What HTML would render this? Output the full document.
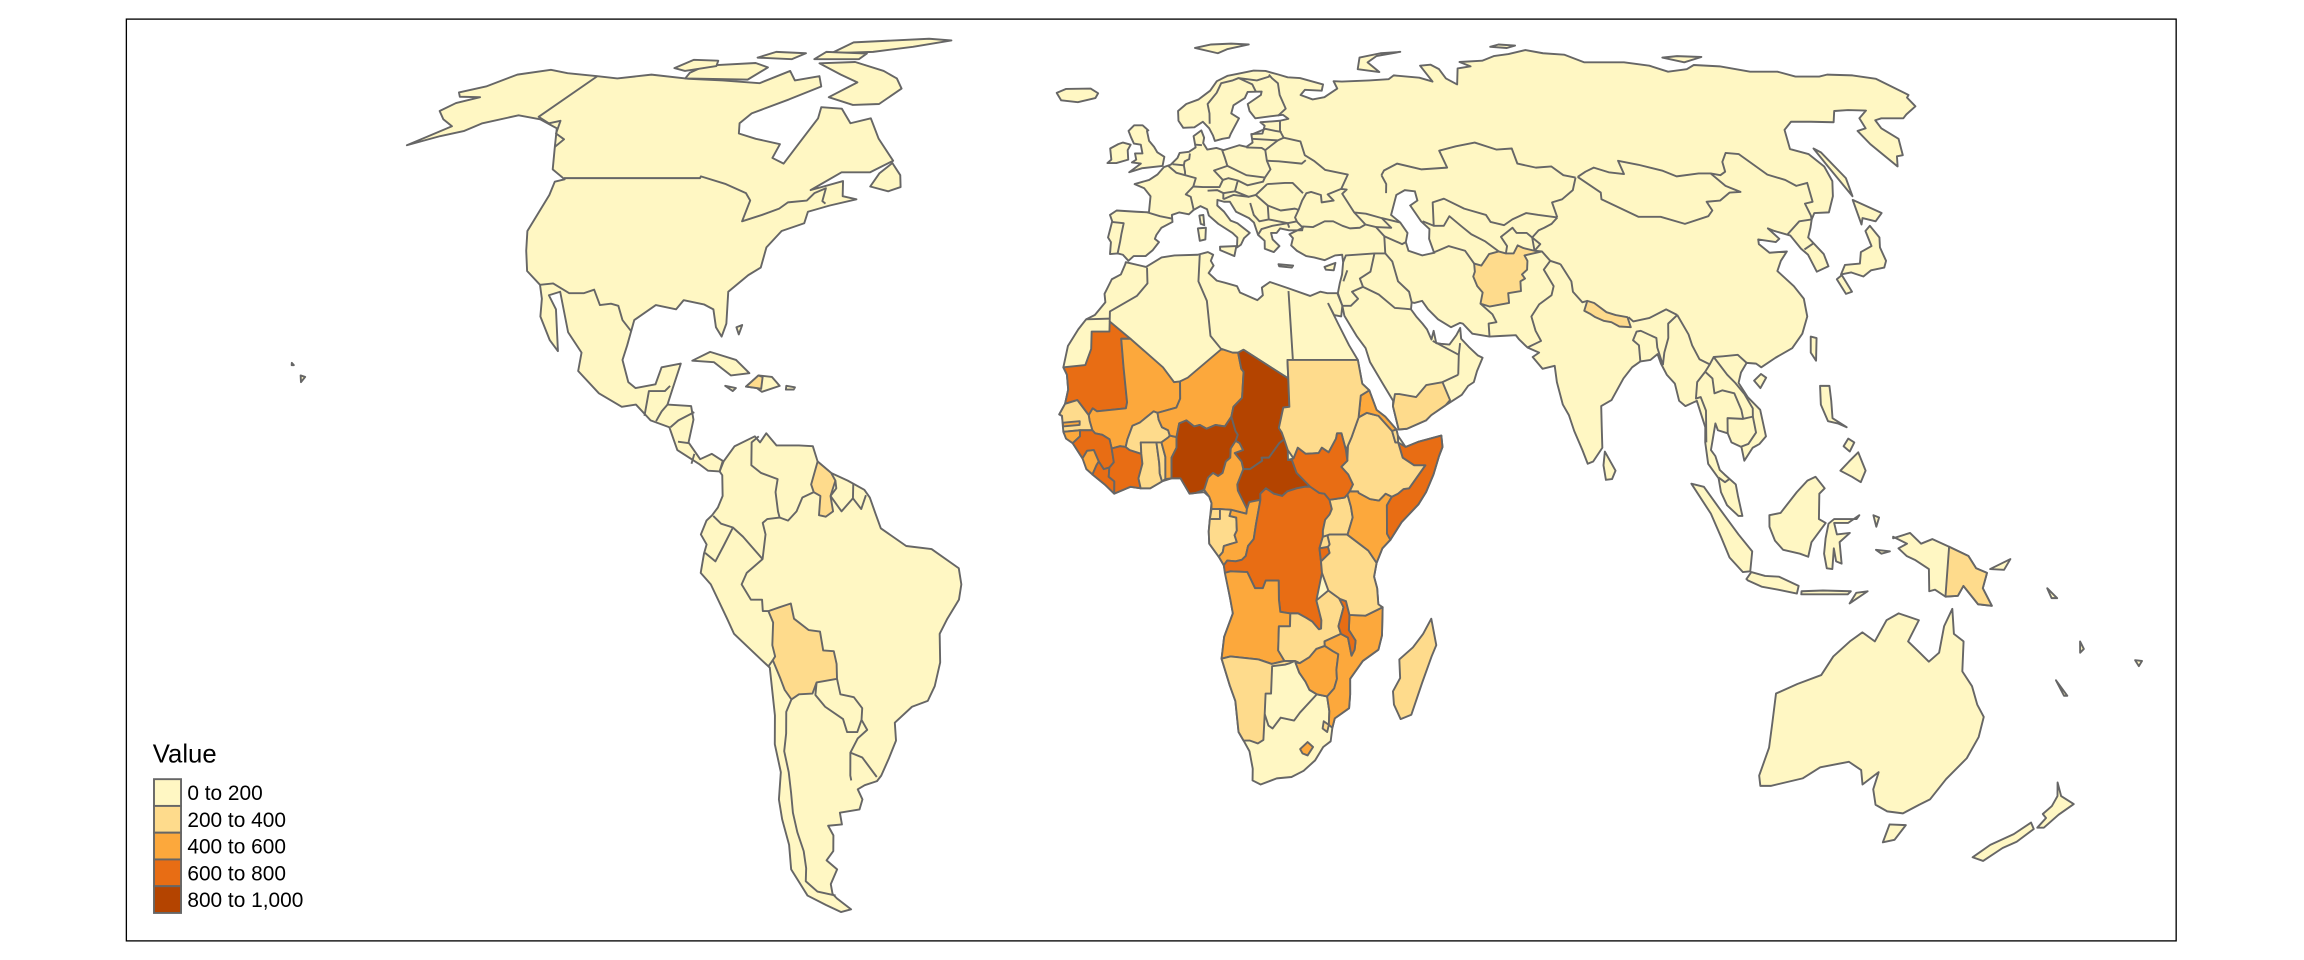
<!DOCTYPE html>
<html><head><meta charset="utf-8"><title>World map - Value</title>
<style>
html,body{margin:0;padding:0;background:#fff;}
svg{display:block;}
text{font-family:"Liberation Sans",Arial,sans-serif;}
</style></head>
<body>
<svg id="map" width="2304" height="960" viewBox="0 0 1568 653" preserveAspectRatio="none" xmlns="http://www.w3.org/2000/svg">
<rect x="86" y="13" width="1395" height="627" fill="#fff" stroke="#000" stroke-width="0.9"/>
<g id="land"></g>
<g id="borders"></g>
<g id="countries"></g>
<g id="legend"></g>
</svg>
<script>
// ---- data ----
const breaks=[0,200,400,600,800,1000];
const legendLabels=["0 to 200","200 to 400","400 to 600","600 to 800","800 to 1,000"];
const palette=["#FFF7C3","#FEDB8C","#FCA83C","#E86D14","#B44400"];
const countryNames=["Mauritania","Mali","Senegal","Gambia","Guinea-Bissau","Guinea","Sierra Leone","Liberia","Cote d'Ivoire","Burkina Faso","Ghana","Togo","Benin","Niger","Nigeria","Chad","Central African Rep.","Cameroon","Eq. Guinea","Gabon","Congo","Dem. Rep. Congo","Angola","Namibia","Zambia","Zimbabwe","Mozambique","Malawi","Tanzania","Burundi","Rwanda","Uganda","Kenya","Somalia","Ethiopia","Eritrea","Djibouti","Sudan","South Sudan","Lesotho","Swaziland","Madagascar","Yemen","Afghanistan","Nepal","Haiti","Guyana","Bolivia","Papua New Guinea"];
const countryValues=[690,520,310,450,480,650,470,640,660,330,300,290,480,560,880,910,870,500,300,280,450,700,520,250,330,480,530,650,300,620,260,330,450,700,350,430,260,290,700,480,300,340,280,290,240,320,230,250,260];

// ---- geometry (lon,lat) ----
const shapes={
"Mauritania":[-17,21,-16.3,20,-16,18,-16.5,16.1,-14.3,16.6,-12.2,14.6,-11.5,15.5,-10.7,15.1,-5.5,15.5,-5.3,16.3,-6,21,-6.5,24.9,-4.8,24.9,-8.7,27.3,-8.7,25.9,-12,25.9,-12,23.5,-13,21.3],
"Mali":[-12.2,14.6,-11.5,15.5,-10.7,15.1,-5.5,15.5,-5.3,16.3,-6,21,-6.5,24.9,-4.8,24.9,1.2,21,3.2,19,4.3,19.1,4.3,16.8,3.6,15.6,0.2,14.9,-0.5,15.1,-2,14.2,-3,13.6,-4.3,13.2,-5.2,11.4,-5.5,10.4,-6.5,10.5,-8,10.2,-8.4,11.4,-9.7,12,-11,12.2,-11.5,12.6,-12,13.8],
"Senegal":[-17.5,14.7,-16.5,16.1,-14.3,16.6,-12.2,14.6,-12,13.8,-11.5,12.6,-13.7,12.6,-16.7,12.4,-17,14.5],
"Gambia":[-16.8,13.6,-13.8,13.8,-13.8,13.3,-16.8,13.1],
"Guinea-Bissau":[-16.7,12.4,-13.7,12.6,-13.7,11.8,-15,10.9,-16.2,11.5],
"Guinea":[-15,10.9,-13.7,11.8,-13.7,12.6,-11.5,12.6,-11,12.2,-9.7,12,-8.4,11.4,-8,10.2,-7.6,8.4,-8.4,7.7,-9.4,7.5,-10.3,8.5,-11.2,10,-12.4,9.9,-13.2,8.9],
"Sierra Leone":[-13.2,8.9,-12.4,9.9,-11.2,10,-10.3,8.5,-10.7,8,-11.4,6.8,-12.5,7.5],
"Liberia":[-11.4,6.8,-10.7,8,-10.3,8.5,-9.4,7.5,-8.4,7.7,-8.5,6.5,-7.5,5.9,-7.5,4.3,-9.2,5.5],
"Cote d'Ivoire":[-7.5,4.3,-4.6,5.2,-2.8,5,-3.2,6.3,-2.5,8.2,-2.7,9.5,-4.8,10,-5.5,10.4,-6.5,10.5,-8,10.2,-7.6,8.4,-8.4,7.7,-8.5,6.5,-7.5,5.9],
"Burkina Faso":[-5.5,10.4,-4.8,10,-2.7,9.5,-2.8,11,0,11,0.9,11,2.2,11.7,2.4,11.9,2.1,12.6,1,13,0.4,14,0.2,14.9,-0.5,15.1,-2,14.2,-3,13.6,-4.3,13.2,-5.2,11.4],
"Ghana":[-2.8,5,-1.1,5,1,5.9,0.6,6.9,0.5,8.3,0,11,-2.8,11,-2.7,9.5,-2.5,8.2,-3.2,6.3],
"Togo":[1,5.9,1.6,6.2,1.6,9.1,0.9,11,0,11,0.5,8.3,0.6,6.9],
"Benin":[1.6,6.2,2.7,6.3,2.7,9,3.6,10.3,3.6,11.7,2.4,11.9,2.2,11.7,0.9,11,1.6,9.1],
"Niger":[0.2,14.9,3.6,15.6,4.3,16.8,4.3,19.1,5.7,19.6,12,23.5,14,23,15,23,15.5,20.8,15.9,20.4,15.5,16.9,13.9,15.7,13.5,14.4,12.3,13.1,10.6,13.3,9,12.8,7.8,13.3,6.8,13.1,5.4,13.9,4.1,13.5,3.6,11.7,2.4,11.9,2.1,12.6,1,13,0.4,14],
"Nigeria":[2.7,6.3,2.7,9,3.6,10.3,3.6,11.7,4.1,13.5,5.4,13.9,6.8,13.1,7.8,13.3,9,12.8,10.6,13.3,12.3,13.1,13.5,14.4,14.2,12.5,14.6,12,14.2,11.2,13.3,10.2,13.2,9,12.4,8.5,11.8,7,11,6.6,10.1,7,9.2,6.4,8.5,4.8,7,4.4,5.9,4.3,4.3,6.3],
"Chad":[13.5,14.4,13.9,15.7,15.5,16.9,15.9,20.4,15.5,20.8,15,23,16,23.4,24,19.5,24,15.7,22.9,15.6,22,12.9,22.5,12.3,22.9,11.4,22,10.9,20.1,9,18.8,9,18.9,8.6,16.7,7.5,15.5,7.5,15.2,8.5,14,9.6,15.5,10,14.9,10.9,14.2,11.2,14.6,12,14.2,12.5],
"Central African Rep.":[14.4,5.5,14.5,4.7,15.3,3.5,16.1,2.3,16.5,3.2,18.5,3.5,18.5,4.3,19.5,5,20.9,4.3,22.4,4,23.3,4.6,25,5,26.4,5.2,27.4,5.2,25,7,24.2,8.7,23.5,8.7,23.5,10,22.9,11.4,22,10.9,20.1,9,18.8,9,18.9,8.6,16.7,7.5,15.5,7.5],
"Cameroon":[8.5,4.8,9.2,6.4,10.1,7,11,6.6,11.8,7,12.4,8.5,13.2,9,13.3,10.2,14.2,11.2,14.9,10.9,15.5,10,14,9.6,15.2,8.5,15.5,7.5,14.4,5.5,14.5,4.7,15.3,3.5,16.1,2.3,16,1.7,13.3,2.2,11.3,2.3,9.8,2.3,9.8,3.1,9.4,3.9],
"Eq. Guinea":[9.8,2.3,11.3,2.3,11.3,1,9.5,1],
"Gabon":[9.5,1,11.3,1,11.3,2.3,13.3,2.2,13,1.4,14.2,1.2,14.3,-0.5,13.9,-1.1,14.3,-2,12.9,-2.3,12,-2.5,11.8,-3.3,11.1,-3.9,9.4,-2.2,9.3,-0.6],
"Congo":[11.1,-3.9,11.8,-3.3,12,-2.5,12.9,-2.3,14.3,-2,13.9,-1.1,14.3,-0.5,14.2,1.2,13,1.4,13.3,2.2,16,1.7,16.1,2.3,16.5,3.2,18.5,3.5,17.7,0.3,17.3,-1.6,16.3,-2.5,15.9,-3.8,15.2,-4.3,14.1,-4.5,12.6,-4.4,12,-5],
"Dem. Rep. Congo":[12.2,-6,13.2,-5.8,16.2,-5.9,17.6,-8,19,-8,19.5,-7,21.8,-7,21.9,-9.5,22.2,-11.1,24,-11.3,25.4,-11.3,26.9,-11.9,28,-12.4,29.2,-13.4,29.6,-13.3,29.6,-12.2,28.6,-9.6,29.5,-6,29.3,-4.5,29,-2.8,29.6,-1.3,29.6,-0.5,30,0.9,30.8,1.6,31.2,2.3,30.8,3.5,29.9,4.3,29,4.4,27.4,5.2,26.4,5.2,25,5,23.3,4.6,22.4,4,20.9,4.3,19.5,5,18.5,4.3,18.5,3.5,17.7,0.3,17.3,-1.6,16.3,-2.5,15.9,-3.8,15.2,-4.3,14.1,-4.5,12.6,-4.4,12,-5],
"Angola":[11.8,-17.3,13.4,-17,18.5,-17.4,20.9,-18,23.2,-17.6,22,-16.2,22,-13,24,-13,24,-11.3,22.2,-11.1,21.9,-9.5,21.8,-7,19.5,-7,19,-8,17.6,-8,16.2,-5.9,13.2,-5.8,12.2,-6,13.2,-9.4,13.7,-11.3,12.2,-14.4],
"Namibia":[11.8,-17.3,13.4,-17,18.5,-17.4,20.9,-18,23.2,-17.6,25.1,-17.6,24.2,-17.9,23.3,-18.1,21,-18.3,21,-22,20,-22,20,-24.8,20,-28.4,19,-28.9,17.5,-28.5,16.3,-28.5,15.3,-27.3,14.5,-23,13.4,-20.9],
"Zambia":[22,-13,24,-13,24,-11.3,25.4,-11.3,26.9,-11.9,28,-12.4,29.2,-13.4,29.6,-13.3,29.6,-12.2,28.6,-9.6,30.7,-8.3,32.8,-9.4,33.5,-10.5,32.7,-13,33.2,-14,30.3,-15,30.4,-15.6,28.9,-16,27.7,-17.1,26,-17.9,25.1,-17.6,23.2,-17.6,22,-16.2],
"Zimbabwe":[25.2,-17.8,26,-17.9,27.7,-17.1,28.9,-16,30.4,-15.6,31.9,-16.3,32.9,-16.7,32.7,-18.8,32.9,-20,32.5,-21.3,31.3,-22.4,29.4,-22.1,28,-21.5,27.2,-20.4,26,-19.2],
"Mozambique":[32.9,-16.7,31.9,-16.3,30.4,-15.6,30.3,-15,33.2,-14,34.5,-14.5,35.3,-16.9,35.8,-16.1,35.9,-14.9,34.6,-13.5,34.6,-11.5,37.5,-11.6,40.5,-10.5,40.6,-14.2,40.1,-16.1,37.4,-17.6,35.3,-20,35.5,-22.1,35.5,-24,33,-25.4,32.7,-26.7,32,-26.3,31.9,-24.4,31.3,-22.4,32.5,-21.3,32.9,-20,32.7,-18.8],
"Malawi":[32.7,-9.4,33.9,-9.7,34.6,-11.5,34.6,-13.5,35.9,-14.9,35.8,-16.1,35.3,-16.9,34.5,-14.5,33.2,-14,32.7,-13,33.5,-10.5],
"Tanzania":[29.3,-4.5,29.5,-6,30.7,-8.3,32.8,-9.4,33.9,-9.7,34.6,-11.5,37.5,-11.6,40.5,-10.5,39.7,-10.1,39.4,-8,38.8,-6.5,39.2,-4.7,37.7,-3.1,33.9,-1,30.8,-1,30.4,-1.1,30.8,-2.3,30.5,-2.6,30.8,-3.4],
"Burundi":[29,-2.8,30.5,-2.6,30.8,-3.4,29.3,-4.5],
"Rwanda":[29,-2.8,29.6,-1.3,30.4,-1.1,30.8,-2.3,30.5,-2.6],
"Uganda":[29.6,-1.3,29.6,-0.5,30,0.9,30.8,1.6,31.2,2.3,30.8,3.5,33.5,3.8,34,4.2,34.6,2.6,34.9,1.2,34,-1,33.9,-1,30.8,-1,30.4,-1.1],
"Kenya":[33.9,-1,37.7,-3.1,39.2,-4.7,40.2,-2.8,41.6,-1.7,41,-0.9,41,2.8,41.9,3.9,40.8,4.3,39.6,3.4,38,3.6,36,4.4,35.9,4.6,34.4,4.6,34,4.2,34.6,2.6,34.9,1.2,34,-1],
"Somalia":[41.6,-1.7,43.6,0.6,46.6,2.9,48,4.5,49.4,6.8,50.5,9.2,51.2,10.4,51.1,11.9,47,11.1,44.6,10.4,43.3,11,44,9,46,8,48,8,45,5,44,4.9,43,4.3,41.9,3.9,41,2.8,41,-0.9],
"Ethiopia":[33,7.8,34.1,8.6,34.3,10.6,35,11.7,36.4,14.3,37.9,14.9,40,14.5,42.3,12.5,42.8,11,43.3,11,44,9,46,8,48,8,45,5,44,4.9,43,4.3,41.9,3.9,40.8,4.3,39.6,3.4,38,3.6,36,4.4,35.9,4.6,34.4,4.6,35,5.5,34.2,6.8],
"Eritrea":[36.4,14.3,37,17.2,38.6,17.9,39.7,15.3,41.2,14.4,43.1,12.7,42.3,12.5,40,14.5,37.9,14.9],
"Djibouti":[42.3,12.5,43.1,12.7,43.3,11.9,43.3,11,42.8,11],
"Sudan":[24,22,24,19.5,24,15.7,22.9,15.6,22,12.9,22.5,12.3,22.9,11.4,23.5,10,24.5,8.9,25.3,10.3,26.7,9.5,29,9.6,29.6,10.3,30.8,9.7,32.2,11.5,32.4,12.2,33.2,12.2,33.9,10,34.3,10.6,35,11.7,36.4,14.3,37,17.2,38.6,17.9,37.4,18.8,36.9,22,31.5,22,25,22],
"South Sudan":[24.5,8.9,25.3,10.3,26.7,9.5,29,9.6,29.6,10.3,30.8,9.7,32.2,11.5,32.4,12.2,33.2,12.2,33.9,10,34.1,8.6,33,7.8,34.2,6.8,35,5.5,34.4,4.6,34,4.2,33.5,3.8,30.8,3.5,29.9,4.3,29,4.4,27.4,5.2,25,7,24.2,8.7,23.5,8.7],
"Lesotho":[27,-29.7,28.3,-28.7,29.4,-29.4,28.5,-30.6,27.5,-30.3],
"Swaziland":[31,-25.8,32,-26.3,31.8,-27.3,30.9,-26.8],
"Madagascar":[49.3,-12,50.5,-15.5,49.8,-17,48.5,-20.5,47.1,-24.9,45.2,-25.5,43.7,-23.5,43.3,-21.7,44.4,-19.9,44,-17.4,46.3,-15.8,48,-14],
"Yemen":[42.7,15.8,43.5,12.7,45,12.8,48.5,13.9,49.5,14.6,52.2,15.9,53.1,16.6,52,19,49,18.6,47,17,44,17.4,43.2,17.4],
"Afghanistan":[60.9,29.8,62.5,29.4,66.3,29.9,66.5,31.3,69,31.6,69.3,33,70.3,33.4,69.9,34,71.1,34.7,71.6,36,71.3,36.8,74.9,37.4,73.5,37.5,71.5,37.9,70.5,38.3,69.3,37.1,67.8,37.1,66.5,37.4,64.5,37,62.5,35.3,61.2,35.6,61,34.4,60.5,33.7,60.9,32.3,61.7,31.4],
"Nepal":[80.1,28.8,81.1,30.2,82.3,29.9,84.2,28.6,85.8,28.2,87.9,27.9,88.1,26.5,86,26.6,84.7,27.2,83.3,27.4,81.9,27.9,81,28.4],
"Haiti":[-74.5,18.4,-72.5,19.9,-71.7,19.7,-71.7,18.1,-72.5,18.2],
"Guyana":[-60.5,8.5,-58,7,-57.2,6,-58,4,-57.5,2,-58.8,1.3,-60,1.5,-59.8,4,-61,4.5,-61.5,5.5],
"Bolivia":[-69.5,-11,-68.8,-12.5,-69.3,-15.5,-69,-17,-69.5,-17.5,-68.5,-20,-68,-21.5,-67,-22.8,-65.5,-22.1,-63,-22,-62,-20.5,-58.2,-20,-58,-18,-58.3,-16.3,-60.2,-16.2,-60.5,-13.7,-62.5,-13.5,-65,-12,-65.4,-10,-67.5,-10.5],
"Papua New Guinea":[141,-2.6,144.5,-3.8,146,-5.4,148,-6,147.5,-8,149.5,-10.3,147,-10.1,144,-7.7,143.2,-9,141,-9.1]
};

const landNames=["north-america","south-america","eurasia","africa","australia"];
const land=[
[-168,65.6,-164,67,-162,70,-156,71.3,-150,70.4,-141,69.6,-135,69,-128,70,-117,68.9,-108,68.5,-98,67.8,-94,71,-90,68.5,-85,69.6,-82,67,-87,64,-93,61,-94,59,-92.5,57,-88,56,-82,55,-82,52.5,-79,51.5,-78,55,-77,60,-78,62.3,-73,62,-69,59,-65,60,-61,56,-56,52,-60,50,-66,50,-71,47,-65,48.5,-64,46,-61,45.5,-66,44.5,-70,43.5,-70,41.7,-74,40.5,-76,38,-76,35,-78,33.9,-81,31.5,-80,27,-80.4,25.2,-81.8,26.5,-83,29,-85,29.7,-89,30.3,-90,29,-94,29.6,-97.3,27.5,-97.5,24,-97.8,22,-96,19,-94.5,18.2,-91,18.7,-90.4,21,-87,21.5,-87.8,18,-88.3,16,-84,15.8,-83.3,14,-83.8,11,-81.5,8.8,-79.5,9.5,-77.3,8.5,-77.9,7.2,-80,7.3,-81.7,8.2,-85.7,10,-87.5,13,-91,13.9,-94,16,-96.5,15.7,-101,17.5,-105.5,20.5,-105.6,23,-109,25.8,-112.8,31.5,-114.7,31,-112.5,29,-110,23.2,-112,24.7,-115,28,-115.8,30.5,-117.1,32.5,-120.6,34.5,-122.5,37.5,-124.2,40.5,-124,46.2,-124.7,48.4,-123,48.8,-127,50.5,-130.5,54.5,-134,58,-140,59.8,-146,60.6,-152,59,-154,57.5,-158,56.5,-163,54.8,-158,58.4,-162,59.8,-165.5,61.5,-164.5,63.2,-161,64.5,-166,64.6],
[-77.3,8.5,-75.5,10.5,-72,11.8,-71,11,-70,12.2,-68,10.6,-64,10.6,-61.5,10.5,-60.5,8.5,-58,7,-55,6,-52,4.8,-51,3.8,-50,1.8,-49,-0.2,-44.5,-2.5,-40,-2.9,-35.2,-5.4,-34.8,-7.5,-35.3,-9.5,-37.5,-12,-39,-14,-39.2,-17.8,-40.5,-21,-42,-23,-45,-23.8,-48.5,-26,-48.7,-28.5,-50.5,-31,-52.5,-33.5,-53.5,-34.3,-56,-34.9,-57.5,-35.5,-57,-37,-58,-38.5,-62,-39,-62.2,-40.8,-65,-41,-64.5,-42.5,-65.5,-45,-67.5,-46.5,-66,-48,-68.5,-50.5,-69,-52.2,-68.5,-53,-66.5,-55,-69,-55.5,-71.5,-54.2,-74.5,-52.5,-75.5,-48,-74,-44,-73.7,-40,-73.2,-37,-71.5,-33,-71.5,-29,-70.5,-25,-70.2,-18.5,-71.5,-17.5,-76,-14,-77,-12,-79.5,-7.5,-81.2,-6,-80.5,-3.5,-80,-2.3,-81,-1,-80,0.8,-79,1.5,-78,2.5,-77.2,4,-77.4,6.7,-77.9,7.2],
[-9,37,-8.9,38.8,-9.5,39.5,-8.8,42,-9.3,43,-8,43.7,-4,43.5,-1.5,43.4,-1.2,46,-2.5,47.3,-4.5,48,-1.5,48.7,0.2,49.6,1.6,50.9,3,51.3,4.5,52.5,5,53.4,7,53.6,8.5,54.4,8.2,56.5,10,57.6,10.5,56.2,10.2,55.2,11,54,13,54.3,14.5,53.9,18,54.8,19.5,54.5,21,55.3,21,56.9,23.5,57,24.3,58.5,23.5,59.2,28,59.5,30,59.9,29,60.7,26,60.4,22.5,60,21.5,61.5,21.4,63,25,65,25.4,65.8,22,65.7,21,64.3,18,62.7,17.2,61,18.8,60,16.5,57,16,56.2,14.5,56,12.8,55.6,12.5,56.6,11.8,58,10.5,59.3,8.5,58.2,6,58.1,5,59.5,5,61.5,7,63,10,64,13,66,15,68.3,18,69.7,21,70.3,25,71.1,28,71,31,70,33,69.3,36,69.1,41,67.5,40,66,36,66.2,34.5,65,37,64,40,64.5,44,66.5,44,68.3,46,68.2,53,68.5,58,68.8,60,69.8,66,69.2,68.5,68.2,69,72.5,72,72.8,73,71.5,72.5,69,74,67.5,78,71.7,82,72.3,80.5,73.6,87,74,92,75.5,97,76.2,104,77.7,107,76.5,112,76,113.5,73.5,118,73.5,124,73.5,129,72.5,131,70.8,137,71.5,141,72.7,147,72.3,152,70.8,159,70.8,161,69.5,167,69.5,170,70,176,69.8,180,68.9,180,65,178.5,64.4,177,62.5,172,60.8,170,60,165,60,163,59.6,162,58,163,56,160,53,158.5,52.8,156.5,51,155.5,55,156,57.5,158.5,58,160,60,164,61.6,160,61.7,156.5,61.5,153,59.2,148,59.3,143.5,59.3,140,57.7,137,54.1,140,53.2,141,51,140.2,48.5,138,46,135,43.4,132,43.3,130.7,42.3,129.5,41,128,39.5,129.4,37,129.2,35.2,126.5,34.4,126.3,36.9,125.5,37.8,124.7,39.8,122,40.5,121,40.9,122.2,39.3,121.2,38.8,118,39.2,117.7,38.5,119,37.2,122.5,37.4,120.5,36,119,34.5,121,32.3,122,30.5,121.5,28,119.6,25.6,117,23.6,113.5,22.3,110.5,21,109.7,21.5,108,21.6,106.6,20.3,105.8,18.9,107,17,108.9,15.3,109.3,11.8,108,10.8,106.7,10.3,105,8.6,104.7,10.4,103,11,102.5,12.2,100.8,12.6,100.5,13.5,99.2,10,99.9,9.2,100.5,7.4,101.3,6.8,103.2,5.5,103.5,4,104.2,1.4,103.5,1.4,101.5,2.8,100.5,4.5,100.2,6.3,98.5,8.2,98.3,11,98.6,13,97.7,16.5,95.5,15.8,94.5,16.5,94.2,18.8,93,20,92.3,21.5,92,22.8,90.5,22,88.6,21.8,86.9,21,85,19.5,82.3,16.6,80.3,15.8,80,13,79.8,10.3,78,8.5,77,8.2,76.2,10,75,12.5,74.3,14.6,73.4,16,72.8,19,72.8,21.2,70.5,20.8,69,22.4,70.3,23,68.3,23.7,67,24.8,66.5,25.4,64,25.3,61.6,25.2,58.5,25.6,57,27,56.5,27.1,54.7,26.5,52.5,27.6,50.9,29,50,30.2,48.5,29.9,48,30,47.7,29,48.5,28,49.5,27,50.2,26.2,50.8,24.8,51.4,26,51.6,24.3,52.5,24.2,54,24.1,55.5,25.4,56.4,26.4,56.3,24.9,57.5,23.8,59,22.6,59.8,22.3,58.5,20.5,57.7,19,56.6,18.5,55.3,17.3,52.2,15.9,49.5,14.6,48.5,13.9,45,12.8,43.5,12.7,42.7,15.8,42.8,16.5,41.2,18.7,39.1,21.7,38.5,23.6,37.1,25.2,35.1,28.1,34.9,29.5,34.3,31.3,34.9,32.8,35.5,34,36,35.8,36,36.9,34.6,36.8,32.5,36.1,30.5,36.5,29,36.7,27.3,37.5,26.3,38.3,26.8,39.4,26.2,40,27.3,40.4,29,41,28,41.9,27.7,42.6,28.6,43.8,29.6,45.3,30.7,46.5,31.7,46.7,33.6,46.2,33.5,45,36,45.3,35,46.3,38,47.2,39.1,47.1,38,46.4,39.7,43.4,41.5,41.5,40.3,41,38.3,40.9,36.9,41.3,35.2,42,33.5,42,31,41.1,29,41.2,28.8,40.6,26.2,40.6,24.5,40.9,23.7,40.2,22.6,40.2,22.8,39.2,24,38.2,22.8,37.3,21.1,37.8,21.2,39,20,39.9,19.4,41.8,18.5,42.5,16,43.5,14.9,45.1,13.7,45.1,12.4,45.4,12.3,44.5,13.6,43.5,14.8,42.1,16.1,41.7,18.4,40.2,17.2,39.4,16.5,38.4,15.7,38,15.9,39.5,15,40.2,12.3,41.6,10.5,42.9,10.2,43.9,8.9,44.4,7.5,43.8,6.5,43.1,4.6,43.4,3.1,43,3.2,41.9,1,41,0,39.9,-0.3,39.3,0.5,38.8,-0.7,37.6,-2.1,36.7,-4.4,36.7,-5.4,36,-6.5,36.9,-7.5,37.1],
[-5.9,35.8,-2,35.1,1,36.5,3.5,36.8,8,36.9,10,37.3,11,36.9,10.5,36,11,35.3,10,34.2,11.5,33.1,13,32.8,15.3,32.3,15.8,31.4,19,30.3,20.1,31,20,32.1,21.6,32.9,25,32,29,30.9,31,31.5,32.3,31.3,34.2,31.3,34.9,29.5,34.5,28,33.2,28.2,32.3,29.8,33.8,27,35.5,24,36.9,22,37.4,18.8,38.6,17.9,39.7,15.3,41.2,14.4,43.1,12.7,43.3,11.9,44.6,10.4,47,11.1,51.1,11.9,51.2,10.4,50.5,9.2,49.4,6.8,48,4.5,46.6,2.9,43.6,0.6,41.6,-1.7,40.2,-2.8,39.2,-4.7,38.8,-6.5,39.4,-8,39.7,-10.1,40.5,-10.8,40.6,-14.2,40.1,-16.1,37.4,-17.6,35.3,-20,35.5,-22.1,35.5,-24,33,-25.4,32.7,-26.7,32.6,-28.6,31.3,-29.4,30,-31.3,28,-32.8,25.8,-33.7,23,-33.9,20,-34.8,18.4,-34.2,18.3,-32.5,17.5,-30,16.3,-28.5,15.3,-27.3,14.5,-23,13.4,-20.9,11.8,-17.3,12.2,-14.4,13.7,-11.3,13.2,-9.4,12.3,-6.1,12,-5,11.1,-3.9,9.4,-2.2,9.3,-0.6,9.8,3.1,9.4,3.9,8.5,4.5,7,4.4,5.9,4.3,4.3,6.3,2.7,6.3,1,5.9,-1.1,5,-2.8,5,-4.6,5.2,-7.5,4.3,-9.2,5.5,-11.4,6.8,-13.2,8.9,-15,10.9,-16.6,12.2,-17,14.5,-17.5,14.7,-16.5,16.1,-16,18,-16.3,20,-17,21,-16.3,23.9,-14.5,26.2,-13.1,27.6,-11.5,28.2,-9.6,30,-9.8,31.2,-8.5,33.3,-6.8,34,-6,35.5],
[113.5,-22,114.2,-26,115,-29.5,115,-33.5,116,-35,118,-35,123.5,-33.9,126,-32.3,131,-31.5,134,-32.7,135.5,-34.8,137.5,-33,138,-35.5,140,-37.8,143,-38.8,146.3,-39.1,148.5,-37.8,150,-37,151,-34,153,-31,153.5,-28,153,-25.2,151,-23.5,149,-21,146.5,-19,145.5,-15,143.5,-14,142.5,-10.7,141.5,-13,141.5,-16.5,140,-17.7,138,-16.5,135.5,-15,136.8,-12.2,133,-11.3,131,-12.2,129.5,-15,127,-13.8,125,-15,122.5,-17,121,-19.5,117,-20.7]
];
const islands=[
[-62,66.5,-65,63,-71,62.8,-78,64.5,-74,68,-80,70,-89,73.2,-80,73.6,-70,71,-65,69],
[-118,69,-102,68.7,-101,72,-106,73.3,-118,72.5,-119,70.5],
[-79,77,-90,76.5,-90,81,-70,83,-62,82,-70,79],
[-80,74.5,-92,74.5,-92,77,-80,76.4],
[-125,71.8,-121,71,-115,72.4,-117,74,-124,74.3],
[-108,75,-98,74.5,-97,76.5,-106,77],
[-59,47.6,-55,46.8,-52.7,47.5,-53.5,49.5,-56,51.6,-58,49.8],
[-85,21.9,-82,23.1,-77,22,-74.2,20.2,-77.5,19.9,-81,21.7],
[-74.5,18.4,-72.5,19.9,-70,19.7,-68.4,18.5,-71.5,17.7,-72.5,18.2],
[-78.3,18.5,-76.3,18.2,-76.8,17.8],[-67.2,18.5,-65.6,18.3,-65.8,18,-67.2,18],
[-78,26.5,-77,26.8,-77.3,25.5],[-155.9,19.9,-155,19.7,-155.5,19],[-158.2,21.6,-157.7,21.3,-158.1,21.3],
[-5.7,50,-3,50.7,1.3,51.1,1.7,52.7,0.2,53.5,-0.5,54.5,-1.6,55.6,-2.1,57.5,-1.8,57.6,-3.1,58.6,-5,58.6,-6.2,57.5,-5.6,56.3,-4.9,55.1,-3.4,54.9,-3,53.3,-4.6,53.3,-4.3,52.2,-5.2,51.7,-3.3,51.5],
[-6,52.2,-6.2,53.9,-5.6,54.9,-7.3,55.3,-8.3,55,-10,54.2,-9.6,52.2,-10.4,51.6,-8.5,51.6],
[-22.5,63.8,-24,65.5,-22,66.4,-16,66.5,-14,65.4,-14.5,64.3,-18.5,63.4],
[11,78.5,16,80,22,80.4,27,80,20,78,17,76.5],
[52,71.5,55,75,62,76.5,68,77,60,75.5,56,73.5,57,70.7],
[96,79,100,80,104,79.5,100,78.5],[137,75,142,75.5,148,75.2,140,73.5],
[8.2,40.9,9.8,41,9.6,39.2,8.5,39],[8.6,42.9,9.4,43,9.5,41.4,8.8,41.6],[12.4,38.1,15.6,38.2,15.1,36.7,12.4,37.6],[23.5,35.5,26.3,35.3,26,35,23.6,35.2],[32.3,35.1,34.5,35.7,34,34.6,32.5,34.7],
[130.9,34,132.5,35.4,135.5,35.6,136.8,37.3,139.5,38.2,140,40.5,141.5,41.3,142,39.5,141,38,140.8,36,139.8,35,137,34.6,135,33.7,133,34.3],
[129.7,33.3,131,33.9,131.6,31.5,130.3,31.2],[140,41.5,141.5,45.4,145.5,43.3,143.2,42,141,42.5],
[142,46,143.5,49,143,53.5,142.2,54.2,141.8,51],[120.2,23,121,25.2,122,25,120.8,21.9],[108.7,19.2,110.2,20.1,111,19.6,109.6,18.2],
[79.8,8,80.2,9.8,81.9,7.3,81.2,6.2,80.1,6.1],
[120,16,120.5,18.5,122.2,18.5,122,16.5,121.7,14.2,124,13,122.5,13.5,120.8,13.8],
[122,7.3,123.7,8.5,125.5,9.7,126.5,7.3,125.5,5.8,124,6.5],[123,10.5,124,11.5,125,11,124,9.8],
[109,1.5,111,1.8,114,4.5,116,6,117.5,6.5,119,5,118,4.3,117.8,1,119,0.5,116.5,-2,116,-3.9,114.5,-3.5,111.5,-3,110,-1.8,109,0],
[95.3,5.6,97.5,5.2,100.5,2,103.5,-1,106,-3.2,105.8,-5.8,104.5,-5.9,102,-4,100.5,-1.5,98.6,1.7],
[105.2,-6.8,106,-5.9,108.5,-6.4,111,-6.5,114.6,-7.7,114.4,-8.7,111,-8.2,108,-7.8,105.5,-7],
[119,-1.5,119.5,0.4,120.5,1,124.5,1,125,1.5,123,0.5,120.5,0.5,121,-1,123.3,-0.8,121.5,-2,122,-4.8,121,-4.5,120.5,-2.8,120.4,-5.5,119.4,-5.4,118.8,-3.5],
[115.2,-8.4,119,-8.3,124,-8.4,123.5,-8.8,119,-8.8,115.2,-8.8],[124,-10,127,-8.4,125,-8.6],
[131,-1.5,134,-0.8,136,-2.2,138,-1.6,141,-2.6,144.5,-3.8,146,-5.4,148,-6,147.5,-8,149.5,-10.3,147,-10.1,144,-7.7,143.2,-9,141,-9.1,139,-8.2,138,-8.4,137.6,-5.5,135,-4.3,133.5,-3.8,132,-2.8,133.5,-2.2,131,-1.3],
[148.5,-5.5,152,-4.2,151,-5.6],[128,-3,130.5,-3.2,129,-3.5],[127.5,1.5,128.5,1.2,128,0],
[145,-40.8,148.3,-40.9,148,-43.2,146,-43.6],
[172.7,-34.5,175,-36.5,178.5,-37.7,177,-39.3,176,-41.3,174.7,-41.3,175,-39.8,173.8,-39.2,174.5,-38,174.3,-36.5],
[172.7,-40.5,174.2,-41.5,172.8,-43.5,171,-44.5,169.3,-46.6,166.5,-46,168,-44,171,-42.3],
[177.3,-17.5,178.6,-17.6,178.3,-18.3],[164,-20.2,167,-22.3,166.4,-22.3],[159,-8,161,-9.3,160,-9.3],[166.5,-15,167.5,-16,167,-16.5]
];
const lakes=[[47,43,49,46.2,51,47,53,46.8,53,45.3,51.3,44.5,52.7,42,54,40.8,53.5,39.3,53.9,37.2,51.5,36.8,49,37.5,48.8,38.8,49.5,40.2,48.5,41.8]];
const borders=[
[-141,69.6,-141,60.3,-137,59,-135,59.5,-133,57,-130,55.9,-130.5,54.5],
[-123.3,49,-95,49,-95,49.3,-89,48,-84,46.5,-82.5,45.3,-82.5,42,-79,43,-76,44,-74.7,45,-71,45.3,-70,46.5,-68,47.3,-67.8,45.2,-67,44.8],
[-117.1,32.5,-114.7,32.7,-111,31.3,-108.2,31.3,-106.5,31.8,-104.5,29.6,-102.5,29.8,-101,29.5,-99.5,27.5,-97.3,25.9],
[-92.2,14.5,-92,17.8,-91,17.8,-89.1,17.8,-88.3,18.5],[-88.3,16,-89.2,15.1,-90,13.8],[-83.3,15,-86,13.9,-87.3,13],[-83.7,10.9,-85.7,11.1],[-82.6,9.5,-83,8.2],[-77.4,8.7,-77.9,7.2],
[-71.3,11.8,-72.5,11,-72.3,8,-70.5,7,-67.5,6.2,-67.8,4.5,-67.3,2,-67,1.2],
[-78.8,1.4,-77.4,0.4,-75.3,-0.1,-73.5,-1.3,-70.1,-4.2,-69.5,-1,-70,0.5,-69.2,1,-67,1.2,-65.5,0.8,-64,2,-63,3.8,-61,4.5],
[-57.2,6,-57,5,-58,4,-56,2,-54,3.7,-54,5.6],[-54,3.7,-52.5,2.3,-51.7,4.1],
[-80.3,-3.4,-78.5,-4.5,-77,-2.5,-75.3,-0.1],
[-70.1,-4.2,-73,-6,-74,-7.5,-72.5,-9.5,-70.5,-9.5,-70.5,-11,-69.5,-11],[-69.5,-17.5,-70.4,-18.3],
[-67,-22.8,-68.3,-24.5,-69,-27.5,-70,-30,-70,-33,-70.5,-36,-71.2,-39,-71.5,-42,-71.5,-45,-72.3,-47.8,-73.5,-50,-72,-51.8,-68.5,-52.5],
[-62,-20.5,-62.5,-22.2,-61,-23.8,-58,-25.5,-57.6,-27.3,-55.7,-27.3,-54.6,-25.6,-54.2,-24,-55.5,-22.5,-57.9,-22.1,-58.2,-20],
[-54.6,-25.6,-53.8,-27,-55.8,-28.2,-57.6,-30.2,-55.5,-30.9,-53.4,-33.7],[-57.6,-30.2,-58.4,-33.5,-58.4,-34.2],
[-8.9,41.9,-6.5,41.7,-6.9,40,-7.1,38.9,-7.5,37.2],[-1.8,43.4,0.7,42.8,3.2,42.4],
[2.5,51.1,4.2,49.9,6,49.5,8.2,49,7.6,47.6,6,46.3,7,45.9,7.5,43.8],[3.4,51.4,5.8,51.2,6,50.1,6,49.5],[5.8,51.2,6,51.9,7,52.3,7.2,53.3],
[8.6,54.9,9.9,54.8],[14.2,53.9,14.6,52.6,15,51.1,12.1,50.3,13.8,48.7,13,47.5,9.6,47.5,7.6,47.6],[15,51.1,18.8,49.5,22.6,49.1],
[10.5,46.9,12.5,47,13.7,46.5,13.6,45.5],[16.9,48.6,16.1,46.8,13.7,46.5],[13.8,48.7,15,49,16.9,48.6,18.8,47.8,22.1,48.4,22.6,49.1],
[19.5,54.4,22.8,54.3,23.5,53.9,23.5,52,24,50.5,22.6,49.1],[21,56,26.6,55.7,28,56.2],[21.1,56.8,24.3,57.9,26.5,57.5,27.8,57.3],
[28,59.5,27.5,57.5,28,56.2,31.5,55.5,31.8,53,33.5,52,35.5,50.4,40,49.6,38,47.2],[23.5,52,26,51.9,30.8,51.5,31.8,52.1],[23.5,53.9,26.6,55.7],
[22.9,48,26.6,48.2,28.2,48.2,30,46.5],[22.9,48,20.3,46.2,22.5,44.5,25,43.7,27.9,44,28.6,43.8],[22.4,42.3,26.1,41.7,28,42],
[16.1,46.8,18.8,45.9,20.3,46.2],[13.6,45.5,15.7,46.2,18.8,45.9],[19,44.9,19.5,43,20.5,42,22.4,42.3,22.5,44.5],[20,39.9,20.8,40.8,23,41.3,26.1,41.7,26.3,41],
[27.8,60.5,30,62,29.5,65,30,67.8,29,69,28.5,70],[24,65.8,23.6,67.5,20.6,69.1,25,68.5,28.5,69.5],[12,58.9,12.2,61,12,63,14.5,65.5,16,67.8,19,68.5,20.6,69.1],
[41.5,41.5,43.5,41.1,44.8,39.7,44.4,37.1,42.3,37.1,36.7,36.8,36,35.8],[39.7,43.4,42,43.2,45,42.5,48.5,41.8],[43.5,41.1,46.5,41,45,42.5],
[44.8,39.7,48,38.5,48.8,38.8],[44.4,37.1,45.5,35.9,46,33,47.8,31.5,48,30],
[42.3,37.1,41,34.4,38.8,33.4,39.2,32.2,42,31.1,44.7,29.2,46.5,29.1,47.7,29],[35,29.5,36.5,29.5,38,30.5,37,31.5,39.2,32.2],[35.6,33,36.6,34.6],
[55,20,52,19],[55,20,55.5,22.7,56,24.3],[51,24.6,55.5,22.7],
[61.6,25.2,61.8,27,63.3,27.2,62.8,28.3,60.9,29.8],[61.2,35.6,60,37.5,57,38.2,54,37.3],
[68.3,23.7,71,24.6,70.3,26,70,28,71.9,29.7,74.6,31,75.4,32.3,74.3,34.7,76,36,77.8,35.5],[74.9,37.4,76,36],
[77.8,35.5,79,33,78.8,31.5,80.1,30,81.1,30.2],[88.1,27.9,88.8,27.3,92,27.8,95.5,29,97.3,28.2],
[88.6,21.8,88.9,24,88,24.7,89,25.9,89.8,26,92.4,25,92.2,23.7,92.6,21.3],[92.6,21.3,93.3,23,94.6,25,95.2,27,97.3,28.2],
[97.3,28.2,98.5,25.5,98.7,24,99.5,22.1,101.2,21.4,100.1,20.4,98.3,19,97.6,16.8,98.5,17,99.1,15.2,98.5,11],
[101.2,21.4,102.2,22.4,103.9,22.5,106.7,22.7,108,21.6],[100.1,20.4,101.2,19.5,101.1,17.5,102.6,17.9,104.7,17.5,105.5,15.3,105.6,14.2],
[102.2,22.4,104,20,105.2,18.9,106.5,17.4,107.6,15.5,107.4,14.4],[102.5,12.2,102.8,14.2,105.5,14.1,107.4,14.4,107.6,12.3,106,10.8,104.5,10.4],[100.2,6.4,101.3,5.8,102.1,6.2],
[47,49.5,47.8,50.3,51,51.5,55.7,50.5,61.3,50.8,61,53.8,65,54.6,69.5,55.3,73.5,54,76.9,54.2,76.5,51.5,80,50.8,83.4,51,85,49.5,87.3,49.1],
[87.3,49.1,85.5,47,82.5,45.5,80.2,45,80.1,42.6],[80.1,42.6,76.5,43,74.2,43.3,71,42.3,69,41.4,66.5,41.9,66,43,62,44,58.5,45.6,56,45,55,41.3,53,42],
[55,41.3,57,41.3,58.6,42.8,60.5,41.2,62,40,64.4,38.9,66.5,37.4],[67.8,37.1,68.4,38.2,67.7,39.6,70.5,41,71,40.2,73,40.2,73.8,39.5,73.5,37.5],
[73.8,39.5,75.5,40.6,76.8,41,78.5,41.6,80.1,42.6],[73.5,37.5,75,38.5,73.8,39.5],[47,49.5,47.5,48,47,46.5],
[87.8,49.2,91,46.6,90.5,45.5,96.4,42.7,100.8,42.7,105,41.6,110.4,42.8,111.8,43.7,111.6,45.1,114.5,45.3,117.4,46.6,119.7,46.7,117.4,47.7,116,49.8,113.5,49.8,108.5,49.3,106.2,50.3,102,51.3,98.2,52,97.8,49.7,94.8,50,92.2,50.8,90,50.1,87.8,49.2],
[116,49.8,117.8,49.5,119.3,50.1,120.2,51.8,122.4,53.4,125,53.2,127.7,49.6,130.6,48.7,132,47.7,134.7,48.2,133.1,45.1,131.3,44.8,131,42.9,130.7,42.3],
[130.7,42.3,128,42,124.3,40],[126.1,37.7,128.4,38.6],
[-1.8,35,-1.7,32.7,-3.7,30.9,-8.7,28.7,-8.7,27.3],[-13.1,27.6,-8.7,27.7],[8.4,36.9,8,33,9.5,30.2,10,25.3,11.9,23.5,12,23.5],
[25,31.6,25,22,24,22,24,19.5],[16,23.4,24,19.5],[25,22,36.9,22],
[20,-22,21,-22],[25.2,-17.8,26,-19.2,27.2,-20.4,28,-21.5,29.4,-22.1,26.5,-24.6,25.5,-25.7,23,-25.3,21.6,-26.8,20.8,-26.4,20,-24.8],
[29.4,-22.1,31.3,-22.4,31.9,-24.4,32,-26.3]
];

// ---- projection (Eckert IV, fitted) ----
const CX=787, CY=358.3, RX=259.7, RY=253.3;
function proj(lon,lat){
  const phi=lat*Math.PI/180, lam=lon*Math.PI/180;
  const k=(2+Math.PI/2)*Math.sin(phi);
  let th=phi/2;
  for(let i=0;i<25;i++){
    const f=th+Math.sin(th)*Math.cos(th)+2*Math.sin(th)-k;
    const d=1+Math.cos(2*th)+2*Math.cos(th);
    if(Math.abs(d)<1e-9)break;
    th-=f/d;
  }
  return [CX+0.4222382*RX*lam*(1+Math.cos(th)), CY-1.3265004*RY*Math.sin(th)];
}
function pathOf(a,close){
  let s="";
  for(let i=0;i<a.length;i+=2){const p=proj(a[i],a[i+1]);s+=(i?"L":"M")+p[0].toFixed(2)+" "+p[1].toFixed(2);}
  return s+(close?"Z":"");
}
function colorFor(v){
  for(let i=0;i<palette.length;i++){if(v<breaks[i+1]||i===palette.length-1)return palette[i];}
}
const NS="http://www.w3.org/2000/svg";
const STROKE="#666666", SW="1.3";
function mk(tag,parent){const e=document.createElementNS(NS,tag);parent.appendChild(e);return e;}

const gLand=document.getElementById("land");
land.forEach((poly,i)=>{
  const p=mk("path",gLand);
  p.setAttribute("d",pathOf(poly,true));
  p.setAttribute("fill",palette[0]);p.setAttribute("stroke",STROKE);p.setAttribute("stroke-width",SW);p.setAttribute("stroke-linejoin","round");
  
  
});
islands.forEach(poly=>{
  const p=mk("path",gLand);
  p.setAttribute("d",pathOf(poly,true));
  p.setAttribute("fill",palette[0]);p.setAttribute("stroke",STROKE);p.setAttribute("stroke-width",SW);p.setAttribute("stroke-linejoin","round");
  
  
});
lakes.forEach(poly=>{
  const p=mk("path",gLand);
  p.setAttribute("d",pathOf(poly,true));
  p.setAttribute("fill","#fff");p.setAttribute("stroke",STROKE);p.setAttribute("stroke-width",SW);
  
  
});
const gB=document.getElementById("borders");
borders.forEach(line=>{
  const p=mk("path",gB);
  p.setAttribute("d",pathOf(line,false));
  p.setAttribute("fill","none");p.setAttribute("stroke",STROKE);p.setAttribute("stroke-width",SW);p.setAttribute("stroke-linejoin","round");
  
  
});
const gC=document.getElementById("countries");
countryNames.forEach((n,i)=>{
  const p=mk("path",gC);
  p.setAttribute("d",pathOf(shapes[n],true));
  p.setAttribute("fill",colorFor(countryValues[i]));p.setAttribute("stroke",STROKE);p.setAttribute("stroke-width",SW);p.setAttribute("stroke-linejoin","round");
  
  
});

// ---- legend ----
const gL=document.getElementById("legend");
const t=mk("text",gL);
t.setAttribute("x","104");t.setAttribute("y","518.5");t.setAttribute("font-size","17.5");t.setAttribute("fill","#000");
t.textContent="Value";


legendLabels.forEach((lab,i)=>{
  const y=530+i*18.2;
  const r=mk("rect",gL);
  r.setAttribute("x","104.8");r.setAttribute("y",y.toFixed(2));r.setAttribute("width","18.4");r.setAttribute("height","18.2");
  r.setAttribute("fill",palette[i]);r.setAttribute("stroke",STROKE);r.setAttribute("stroke-width","1.3");
  
  
  const tx=mk("text",gL);
  tx.setAttribute("x","127.5");tx.setAttribute("y",(y+14.3).toFixed(2));tx.setAttribute("font-size","14.2");tx.setAttribute("fill","#000");
  tx.textContent=lab;
  
  
});
</script>
</body></html>
